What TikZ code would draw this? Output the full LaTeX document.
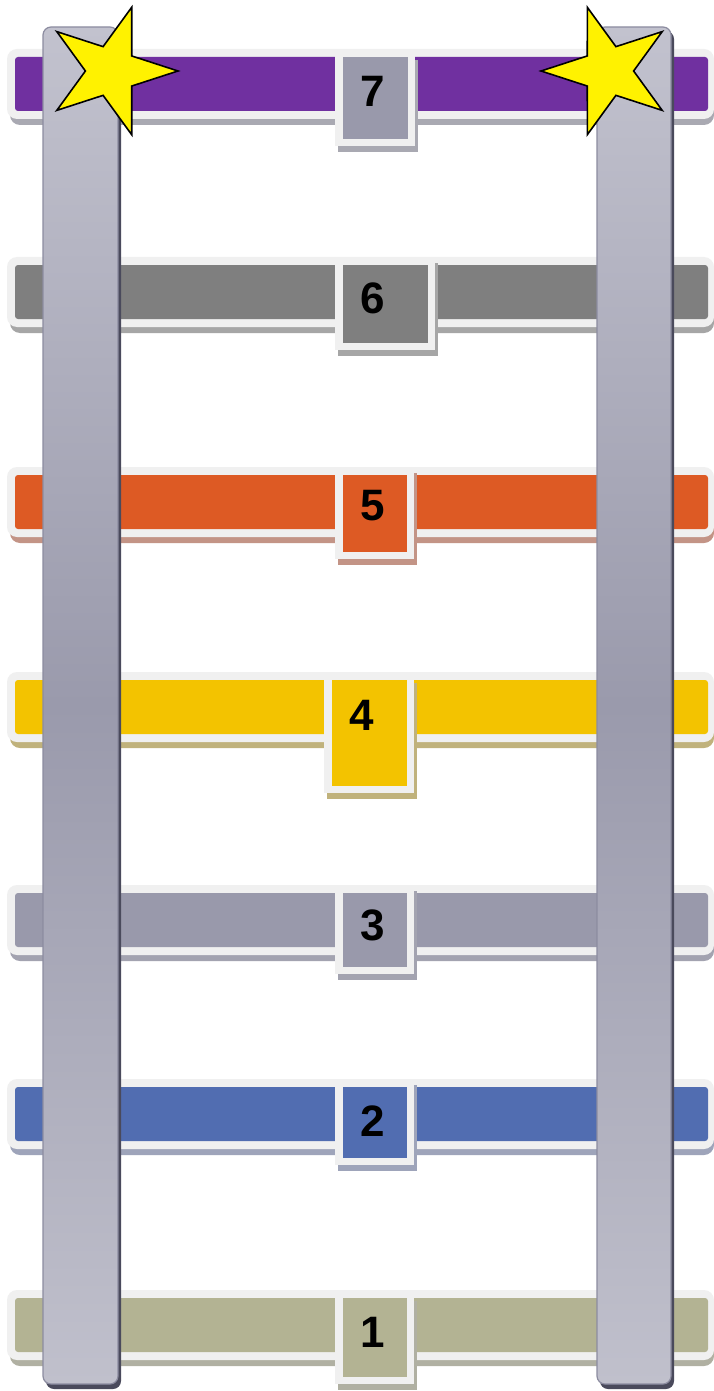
\documentclass[tikz,border=0pt]{standalone}
\usepackage{fontspec}
\setmainfont{Liberation Sans}
\definecolor{rc7}{HTML}{7030A0}\definecolor{rs7}{HTML}{A9A9B2}
\definecolor{rc6}{HTML}{7F7F7F}\definecolor{rs6}{HTML}{A6A6A6}
\definecolor{rc5}{HTML}{DD5A24}\definecolor{rs5}{HTML}{C39486}
\definecolor{rc4}{HTML}{F3C300}\definecolor{rs4}{HTML}{C0B27C}
\definecolor{rc3}{HTML}{9999AB}\definecolor{rs3}{HTML}{A3A3B0}
\definecolor{rc2}{HTML}{516DB1}\definecolor{rs2}{HTML}{9EA4BA}
\definecolor{rc1}{HTML}{B3B393}\definecolor{rs1}{HTML}{B0B0A2}
\definecolor{border}{HTML}{F0F0F0}
\definecolor{railtop}{HTML}{C2C2CE}
\definecolor{railmid}{HTML}{9A9AAC}
\definecolor{railbot}{HTML}{C0C0CC}
\definecolor{railedge}{HTML}{8C8CA0}
\definecolor{railshadow}{HTML}{4A4A5C}
\tikzset{
  rungborder/.style={fill=border, rounded corners=5pt},
  rungshadow/.style={rounded corners=5pt},
  rungfill/.style={rounded corners=1.5pt},
  boxborder/.style={fill=border},
  numlabel/.style={font=\fontsize{22}{26}\selectfont\bfseries, text=black, inner sep=0pt},
  railsty/.style={top color=railtop, bottom color=railbot, middle color=railmid, rounded corners=4pt},
  railshadowsty/.style={fill=railshadow, rounded corners=4pt},
  starsty/.style={fill=yellow, draw=black, line width=0.8pt, line join=miter}
}
\newcommand\ladderrung[3]{%
  \fill[rungshadow, #3] (10,#1-2) rectangle (714,#1+68);
  \fill[rungborder] (7,#1-8) rectangle (714,#1+62);
  \fill[rungfill, #2] (15,#1) rectangle (708,#1+54);
}
% #1 x1, #2 y1, #3 x2, #4 y2, #5 inner top, #6 colour, #7 shadow
\newcommand\ladderbox[7]{%
  \fill[#7] (#1+3,#2+6) rectangle (#3+3,#4+6);
  \fill[boxborder] (#1,#2) rectangle (#3,#4);
  \fill[#6] (#1+8,#5) rectangle (#3-7,#4-7);
}
\begin{document}
\begin{tikzpicture}[x=0.5pt,y=-0.5pt]
\useasboundingbox[fill=white] (0,0) rectangle (713,1391);
% rungs
\ladderrung{57}{rc7}{rs7}
\ladderrung{265}{rc6}{rs6}
\ladderrung{475}{rc5}{rs5}
\ladderrung{680}{rc4}{rs4}
\ladderrung{893}{rc3}{rs3}
\ladderrung{1087}{rc2}{rs2}
\ladderrung{1298}{rc1}{rs1}
% number boxes
\ladderbox{335}{54}{415}{146}{57}{rc3}{rs7}
\ladderbox{335}{257}{435}{350}{265}{rc6}{rs6}
\ladderbox{335}{467}{414}{559}{475}{rc5}{rs5}
\ladderbox{324}{677}{414}{793}{680}{rc4}{rs4}
\ladderbox{335}{885}{414}{974}{893}{rc3}{rs3}
\ladderbox{335}{1079}{414}{1165}{1087}{rc2}{rs2}
\ladderbox{335}{1295}{414}{1384}{1298}{rc1}{rs1}
\node[numlabel] (n7) at (373,91) {7};
\node[numlabel] (n6) at (373,298) {6};
\node[numlabel] (n5) at (373,506) {5};
\node[numlabel] (n4) at (362,715) {4};
\node[numlabel] (n3) at (373,925) {3};
\node[numlabel] (n2) at (373,1121) {2};
\node[numlabel] (n1) at (373,1332) {1};
% rails
\fill[railshadowsty] (46,31) rectangle (121,1389);
\shade[railsty] (43,27) rectangle (118,1384);
\draw[railedge, line width=0.6pt, rounded corners=4pt] (43,27) rectangle (118,1384);
\fill[railshadowsty] (600,31) rectangle (674,1389);
\shade[railsty] (597,27) rectangle (671,1384);
\draw[railedge, line width=0.6pt, rounded corners=4pt] (597,27) rectangle (671,1384);
% stars
\begin{scope}[shift={(111,71)}]
\draw[starsty] (0:67) -- (36:25.6) -- (72:67) -- (108:25.6) -- (144:67) -- (180:25.6) -- (216:67) -- (252:25.6) -- (288:67) -- (324:25.6) -- cycle;
\end{scope}
\begin{scope}[shift={(608,71)}]
\draw[starsty] (180:67) -- (216:25.6) -- (252:67) -- (288:25.6) -- (324:67) -- (0:25.6) -- (36:67) -- (72:25.6) -- (108:67) -- (144:25.6) -- cycle;
\end{scope}
\end{tikzpicture}
\end{document}
